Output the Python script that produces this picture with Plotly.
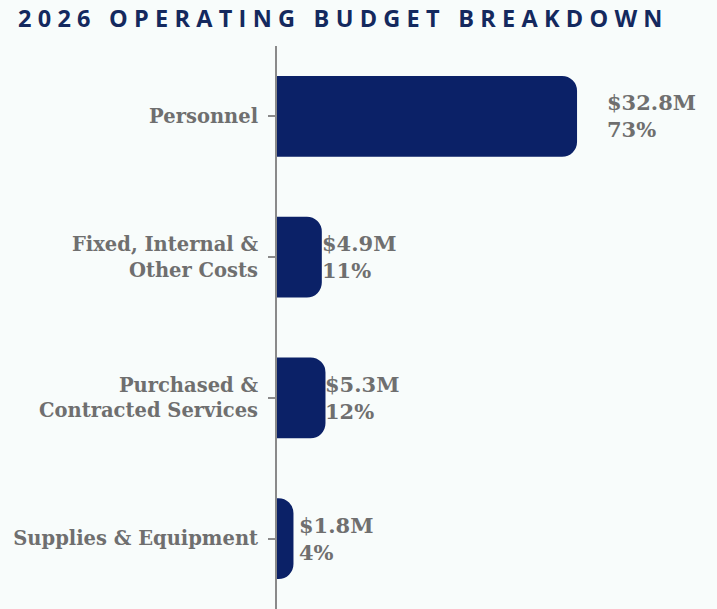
import plotly.graph_objects as go

# 2026 operating budget, in millions of dollars
categories = [
    "Personnel",
    "Fixed, Internal &<br>Other Costs",
    "Purchased &<br>Contracted Services",
    "Supplies & Equipment",
]
amounts_musd = [32.8, 4.9, 5.3, 1.8]
shares_pct = [73, 11, 12, 4]

NAVY = "#0b2167"
GRAY_TEXT = "#6f6f6f"
BG = "#f8fcfb"

# horizontal pixel nudge for each value label
label_nudge = [28, -2, -2, 4]

title_text = "2026 OPERATING BUDGET BREAKDOWN"
spaced_title = "\u2009\u200a".join(title_text)

fig = go.Figure(
    go.Bar(
        x=amounts_musd,
        y=categories,
        orientation="h",
        width=0.575,
        marker=dict(color=NAVY, line=dict(width=0)),
        hoverinfo="skip",
    )
)

for cat, amt, pct, dx in zip(categories, amounts_musd, shares_pct, label_nudge):
    fig.add_annotation(
        x=amt,
        y=cat,
        xref="x",
        yref="y",
        text=f"${amt:.1f}M<br>{pct}%",
        showarrow=False,
        xanchor="left",
        yanchor="middle",
        align="left",
        xshift=dx,
        font=dict(family="DejaVu Serif", size=21, color=GRAY_TEXT, weight="bold"),
    )

fig.update_layout(
    width=717,
    height=609,
    margin=dict(l=277, r=0, t=46, b=0),
    paper_bgcolor=BG,
    plot_bgcolor=BG,
    barcornerradius=15,
    showlegend=False,
    title=dict(
        text=spaced_title,
        xref="container",
        yref="container",
        x=18 / 717,
        xanchor="left",
        y=1 - 19 / 609,
        yanchor="middle",
        font=dict(family="Open Sans", size=23.5, color="#14295e", weight="bold"),
    ),
    xaxis=dict(
        range=[0, 48.1],
        visible=False,
        showgrid=False,
        zeroline=False,
    ),
    yaxis=dict(
        range=[3.5, -0.5],
        showgrid=False,
        zeroline=False,
        showline=True,
        linecolor="#8a8a8a",
        linewidth=2,
        ticks="outside",
        ticklen=7,
        tickwidth=1.5,
        tickcolor="#8a8a8a",
        ticklabelstandoff=6,
        tickfont=dict(family="DejaVu Serif", size=19.5, color=GRAY_TEXT, weight="bold"),
    ),
)

fig.write_html("out.html")
